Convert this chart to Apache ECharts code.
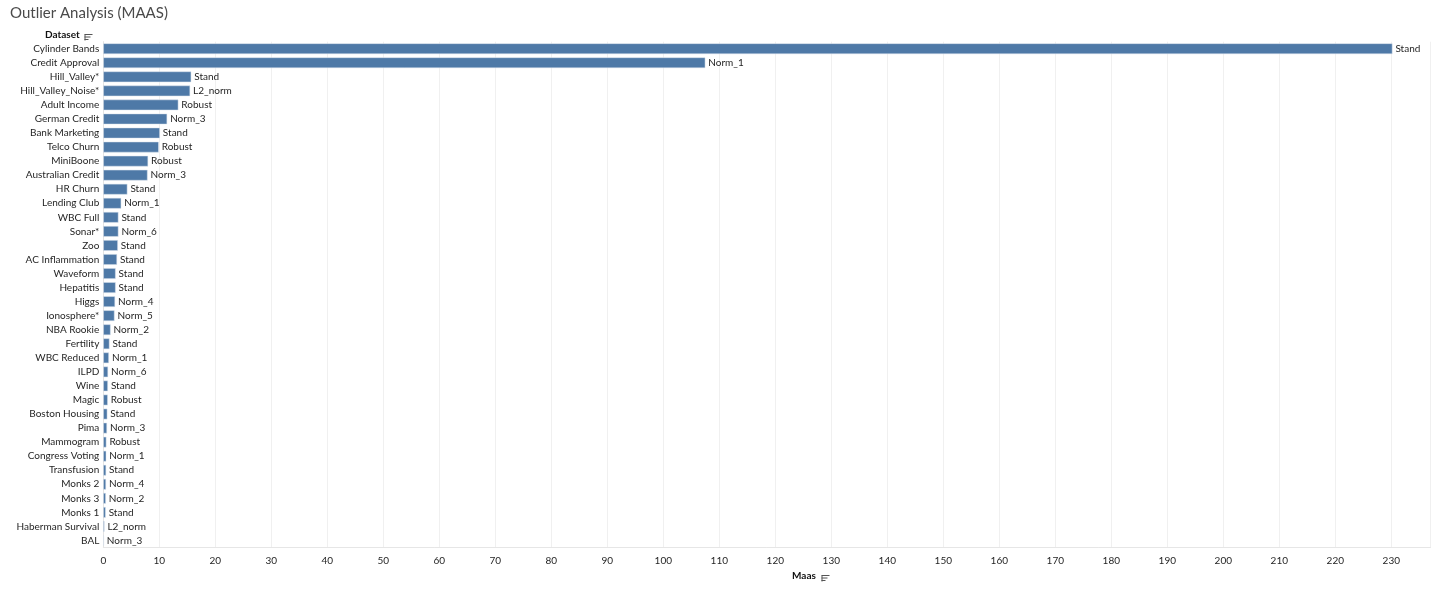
<!DOCTYPE html>
<html>
<head>
<meta charset="utf-8">
<title>Outlier Analysis (MAAS)</title>
<script src="https://cdn.jsdelivr.net/npm/echarts@6/dist/echarts.min.js"></script>
<style>
  html, body { margin: 0; padding: 0; background: #fff; }
  #chart { width: 1432px; height: 590px; }
</style>
</head>
<body>
<div id="chart"></div>
<script>
  // rows top to bottom, sorted by Maas descending
  var datasets = [
    'Cylinder Bands', 'Credit Approval', 'Hill_Valley*', 'Hill_Valley_Noise*', 'Adult Income',
    'German Credit', 'Bank Marketing', 'Telco Churn', 'MiniBoone', 'Australian Credit',
    'HR Churn', 'Lending Club', 'WBC Full', 'Sonar*', 'Zoo', 'AC Inflammation', 'Waveform',
    'Hepatitis', 'Higgs', 'Ionosphere*', 'NBA Rookie', 'Fertility', 'WBC Reduced', 'ILPD',
    'Wine', 'Magic', 'Boston Housing', 'Pima', 'Mammogram', 'Congress Voting', 'Transfusion',
    'Monks 2', 'Monks 3', 'Monks 1', 'Haberman Survival', 'BAL'
  ];

  var maas = [
    230.2, 107.5, 15.7, 15.5, 13.4, 11.4, 10.1, 9.9, 8.0, 7.9,
    4.3, 3.2, 2.7, 2.7, 2.6, 2.45, 2.2, 2.2, 2.1, 2.0,
    1.3, 1.1, 1.0, 0.85, 0.82, 0.8, 0.72, 0.66, 0.55, 0.53,
    0.5, 0.48, 0.45, 0.42, 0.2, 0.1
  ];

  var scaling = [
    'Stand', 'Norm_1', 'Stand', 'L2_norm', 'Robust', 'Norm_3', 'Stand', 'Robust', 'Robust', 'Norm_3',
    'Stand', 'Norm_1', 'Stand', 'Norm_6', 'Stand', 'Stand', 'Stand', 'Stand', 'Norm_4', 'Norm_5',
    'Norm_2', 'Stand', 'Norm_1', 'Norm_6', 'Stand', 'Robust', 'Stand', 'Norm_3', 'Robust', 'Norm_1',
    'Stand', 'Norm_4', 'Norm_2', 'Stand', 'L2_norm', 'Norm_3'
  ];

  var xTicks = { min: 0, max: 237, interval: 10 };

  var FONT = 'Lato, "Open Sans", sans-serif';
  var TEXT = '#1f1f1f';

  // small Tableau style sort glyph next to the field names
  function sortIcon(left, top) {
    var lines = [[0, 8], [0, 6], [0, 4]];
    return {
      type: 'group',
      left: left,
      top: top,
      silent: true,
      children: lines.map(function (l, i) {
        return {
          type: 'line',
          shape: { x1: l[0], y1: i * 2.5, x2: l[1], y2: i * 2.5 },
          style: { stroke: '#555', lineWidth: 1 }
        };
      }).concat([{
        type: 'line',
        shape: { x1: 0.5, y1: 0, x2: 0.5, y2: 6 },
        style: { stroke: '#555', lineWidth: 1 }
      }])
    };
  }

  var chart = echarts.init(document.getElementById('chart'), null, { renderer: 'canvas' });

  chart.setOption({
    animation: false,
    backgroundColor: '#fff',
    title: {
      text: 'Outlier Analysis (MAAS)',
      left: 5,
      top: 1,
      textStyle: { fontFamily: FONT, fontSize: 15, fontWeight: 'normal', color: '#4a4a4a' }
    },
    graphic: [
      {
        type: 'text',
        left: 45,
        top: 30,
        style: { text: 'Dataset', font: 'bold 10px ' + FONT, fill: '#111' }
      },
      sortIcon(82, 32),
      {
        type: 'text',
        left: 792,
        top: 571,
        style: { text: 'Maas', font: 'bold 10px ' + FONT, fill: '#111' }
      },
      sortIcon(819, 573)
    ],
    grid: { left: 103.3, right: 1.5, top: 41.7, bottom: 42.5, containLabel: false },
    xAxis: {
      type: 'value',
      min: xTicks.min,
      max: xTicks.max,
      interval: xTicks.interval,
      axisLine: { show: true, lineStyle: { color: '#e6e6e6' } },
      axisTick: { show: false },
      splitLine: { show: true, lineStyle: { color: '#f0f0f0', width: 1 } },
      axisLabel: {
        fontFamily: FONT, fontSize: 10, color: TEXT, margin: 8,
        showMaxLabel: false
      }
    },
    yAxis: {
      type: 'category',
      inverse: true,
      data: datasets,
      axisLine: { show: true, lineStyle: { color: '#e3e3e3' } },
      axisTick: { show: false },
      splitLine: { show: false },
      axisLabel: { fontFamily: FONT, fontSize: 10, color: TEXT, margin: 4, interval: 0 }
    },
    series: [{
      type: 'bar',
      data: maas,
      barCategoryGap: '24%',
      itemStyle: { color: '#4e79a7', borderColor: '#dbe3ec', borderWidth: 0.5 },
      label: {
        show: true,
        position: 'right',
        distance: 3,
        fontFamily: FONT,
        fontSize: 10,
        color: TEXT,
        formatter: function (p) { return scaling[p.dataIndex]; }
      }
    }]
  });
</script>
</body>
</html>
